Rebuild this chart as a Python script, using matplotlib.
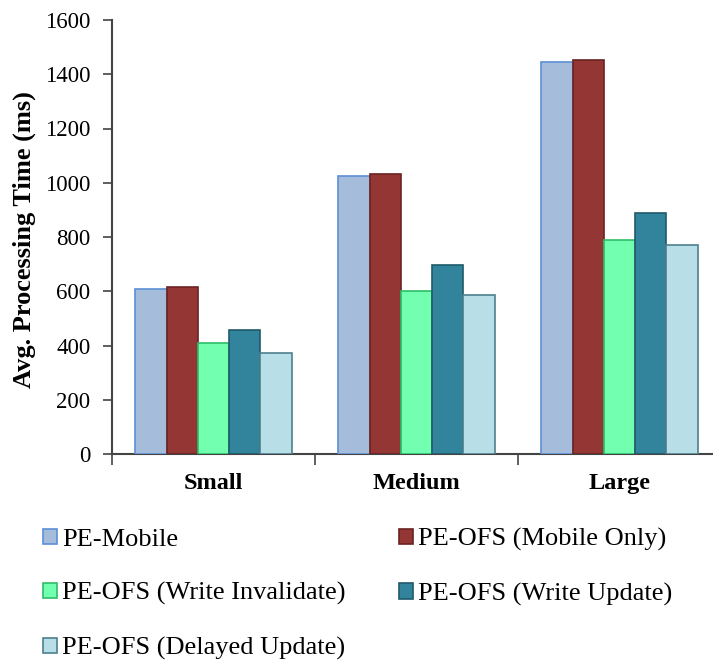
import matplotlib
matplotlib.use("Agg")
import matplotlib.pyplot as plt
import numpy as np
from matplotlib.patches import Patch

plt.rcParams['font.family'] = ['Liberation Serif', 'DejaVu Serif']

categories = ["Small", "Medium", "Large"]
series_names = [
    "PE-Mobile",
    "PE-OFS (Mobile Only)",
    "PE-OFS (Write Invalidate)",
    "PE-OFS (Write Update)",
    "PE-OFS (Delayed Update)",
]
pe_mobile = [610, 1026, 1447]
pe_ofs_mobile_only = [617, 1032, 1451]
pe_ofs_write_invalidate = [410, 601, 788]
pe_ofs_write_update = [457, 696, 888]
pe_ofs_delayed_update = [373, 586, 772]
y_ticks = [0, 200, 400, 600, 800, 1000, 1200, 1400, 1600]

series = [pe_mobile, pe_ofs_mobile_only, pe_ofs_write_invalidate,
          pe_ofs_write_update, pe_ofs_delayed_update]
faces = ["#A5BCDB", "#943634", "#73FFB0", "#31849B", "#B8DEE8"]
edges = ["#5C8FD6", "#6A2322", "#2DBE6A", "#1F5A6A", "#4E808D"]
axis_gray = "#444444"

fig = plt.figure(figsize=(7.13, 6.64), dpi=100)
ax = fig.add_axes([112 / 713, 1 - 454 / 664, 609 / 713, (454 - 20) / 664])

x = np.arange(len(categories))
n = len(series)
bw = 0.77 / n
handles = []
for i, (vals, fc, ec, name) in enumerate(zip(series, faces, edges, series_names)):
    pos = x - 0.385 + bw * (i + 0.5)
    ax.bar(pos, vals, width=bw, color=fc, edgecolor=ec, linewidth=1.2, zorder=3)
    handles.append(Patch(facecolor=fc, edgecolor=ec, linewidth=1.2, label=name))

ax.set_xlim(-0.5, 2.5)
ax.set_ylim(0, 1600)
ax.set_yticks(y_ticks)
ax.tick_params(axis='y', labelsize=16.5, length=6.5, width=1.2, color=axis_gray, pad=9)

# Category labels centred on groups, tick marks at group boundaries
ax.set_xticks(x)
ax.set_xticklabels(categories, fontsize=17.5, fontweight='bold')
ax.tick_params(axis='x', which='major', length=0, pad=14)
ax.set_xticks([-0.5, 0.5, 1.5], minor=True)
ax.tick_params(axis='x', which='minor', length=8, width=1.2, color=axis_gray)

for side in ("top", "right"):
    ax.spines[side].set_visible(False)
for side in ("left", "bottom"):
    ax.spines[side].set_color(axis_gray)
    ax.spines[side].set_linewidth(1.5)

ax.set_ylabel("Avg. Processing Time (ms)", fontsize=19, fontweight='bold')
ax.yaxis.set_label_coords(-0.124, 0.493)

order = [0, 2, 4, 1, 3]
fig.legend([handles[i] for i in order], [series_names[i] for i in order],
           ncol=2, loc='upper left', bbox_to_anchor=(43 / 713, 1 - 528 / 664),
           frameon=False, fontsize=19, handlelength=0.53, handleheight=0.53,
           handletextpad=0.2, labelspacing=1.2, columnspacing=2.0,
           borderpad=0, borderaxespad=0)

fig.savefig("out.png", dpi=100)
